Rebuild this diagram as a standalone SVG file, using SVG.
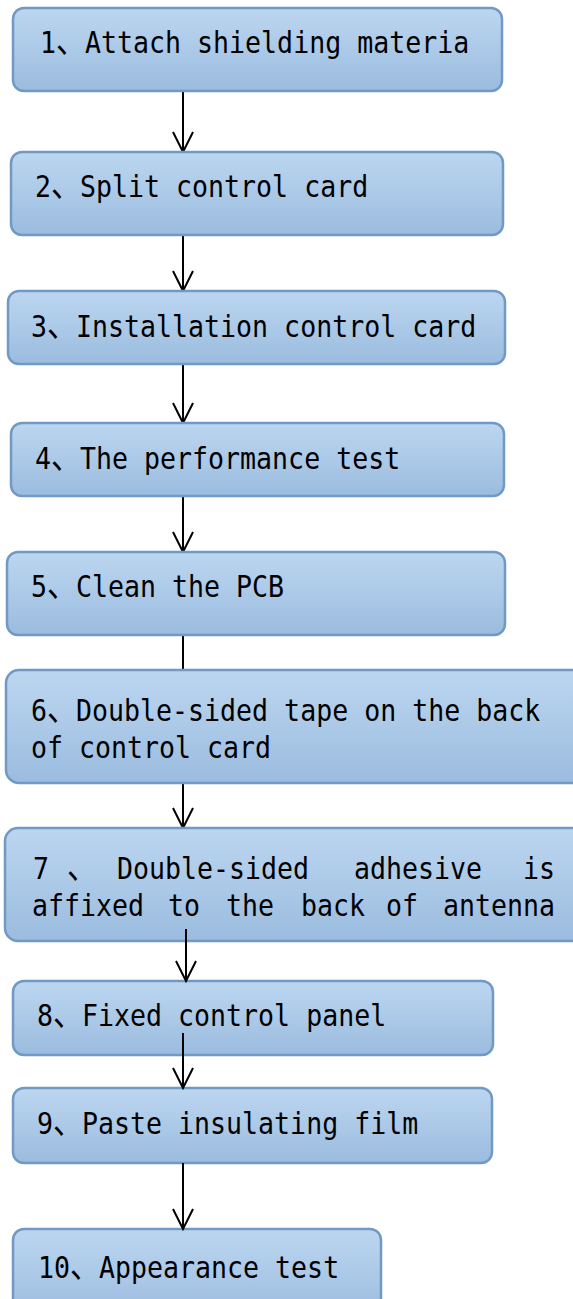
<svg xmlns="http://www.w3.org/2000/svg" width="573" height="1299" viewBox="0 0 573 1299">
<style>
.box{fill:url(#g);stroke:#7099c4;stroke-width:2.5}
.t{font-family:"DejaVu Sans Mono","Liberation Mono",monospace;font-size:26.6px;fill:#000}
.c{font-family:"Noto Sans CJK JP",sans-serif;font-size:30px}
.con line{stroke:#000;stroke-width:2}
</style>
<defs>
<linearGradient id="g" x1="0" y1="0" x2="0" y2="1">
<stop offset="0" stop-color="#bcd6f0"/>
<stop offset="1" stop-color="#9bbcdf"/>
</linearGradient>
<marker id="a" markerUnits="userSpaceOnUse" markerWidth="24" markerHeight="24" viewBox="-22 -12 24 24" refX="0" refY="0" orient="auto">
<path d="M-20,-10 L0,0 L-20,10" fill="none" stroke="#000" stroke-width="2"/>
</marker>
</defs>
<g class="con">
<line x1="183" y1="91" x2="183" y2="152" marker-end="url(#a)"/>
<line x1="183" y1="235" x2="183" y2="291" marker-end="url(#a)"/>
<line x1="183" y1="364" x2="183" y2="423" marker-end="url(#a)"/>
<line x1="183" y1="496" x2="183" y2="552" marker-end="url(#a)"/>
<line x1="183" y1="635" x2="183" y2="670"/>
<line x1="183" y1="783" x2="183" y2="828" marker-end="url(#a)"/>
</g>
<g id="n1"><rect class="box" x="13" y="8" width="489" height="83" rx="11"/>
<text class="t" transform="translate(0,53) scale(1,1.15)"><tspan x="40">1</tspan><tspan class="c" x="56">、</tspan><tspan x="85">Attach shielding materia</tspan></text></g>
<g id="n2"><rect class="box" x="11" y="152" width="492" height="83" rx="11"/>
<text class="t" transform="translate(0,197) scale(1,1.15)"><tspan x="35">2</tspan><tspan class="c" x="51">、</tspan><tspan x="80">Split control card</tspan></text></g>
<g id="n3"><rect class="box" x="8" y="291" width="497" height="73" rx="11"/>
<text class="t" transform="translate(0,337) scale(1,1.15)"><tspan x="31">3</tspan><tspan class="c" x="47">、</tspan><tspan x="76">Installation control card</tspan></text></g>
<g id="n4"><rect class="box" x="11" y="423" width="493" height="73" rx="11"/>
<text class="t" transform="translate(0,469) scale(1,1.15)"><tspan x="35">4</tspan><tspan class="c" x="51">、</tspan><tspan x="80">The performance test</tspan></text></g>
<g id="n5"><rect class="box" x="7" y="552" width="498" height="83" rx="11"/>
<text class="t" transform="translate(0,597) scale(1,1.15)"><tspan x="31">5</tspan><tspan class="c" x="47">、</tspan><tspan x="76">Clean the PCB</tspan></text></g>
<g id="n6"><rect class="box" x="6" y="670" width="580" height="113" rx="13"/>
<text class="t" transform="translate(0,721) scale(1,1.15)"><tspan x="31">6</tspan><tspan class="c" x="47">、</tspan><tspan x="76">Double-sided tape on the back</tspan></text>
<text class="t" transform="translate(0,758) scale(1,1.15)" x="31">of control card</text></g>
<g id="n7"><rect class="box" x="5" y="828" width="580" height="113" rx="13"/>
<text class="t" transform="translate(0,879) scale(1,1.15)"><tspan x="33">7</tspan><tspan class="c" x="67">、</tspan><tspan x="117">Double-sided</tspan><tspan x="354">adhesive</tspan><tspan x="523">is</tspan></text>
<text class="t" transform="translate(0,916) scale(1,1.15)"><tspan x="32">affixed</tspan><tspan x="168">to</tspan><tspan x="226">the</tspan><tspan x="301">back</tspan><tspan x="386">of</tspan><tspan x="443">antenna</tspan></text></g>
<g id="n8"><rect class="box" x="13" y="981" width="480" height="74" rx="11"/>
<text class="t" transform="translate(0,1026) scale(1,1.15)"><tspan x="37">8</tspan><tspan class="c" x="53">、</tspan><tspan x="82">Fixed control panel</tspan></text></g>
<g id="n9"><rect class="box" x="13" y="1088" width="479" height="75" rx="11"/>
<text class="t" transform="translate(0,1134) scale(1,1.15)"><tspan x="37">9</tspan><tspan class="c" x="53">、</tspan><tspan x="82">Paste insulating film</tspan></text></g>
<g id="n10"><rect class="box" x="13" y="1229" width="368" height="90" rx="11"/>
<text class="t" transform="translate(0,1278) scale(1,1.15)"><tspan x="38">10</tspan><tspan class="c" x="70">、</tspan><tspan x="99">Appearance test</tspan></text></g>
<g class="con">
<line x1="186" y1="929" x2="186" y2="981" marker-end="url(#a)"/>
<line x1="183" y1="1033" x2="183" y2="1088" marker-end="url(#a)"/>
<line x1="183" y1="1163" x2="183" y2="1229" marker-end="url(#a)"/>
</g>
</svg>
